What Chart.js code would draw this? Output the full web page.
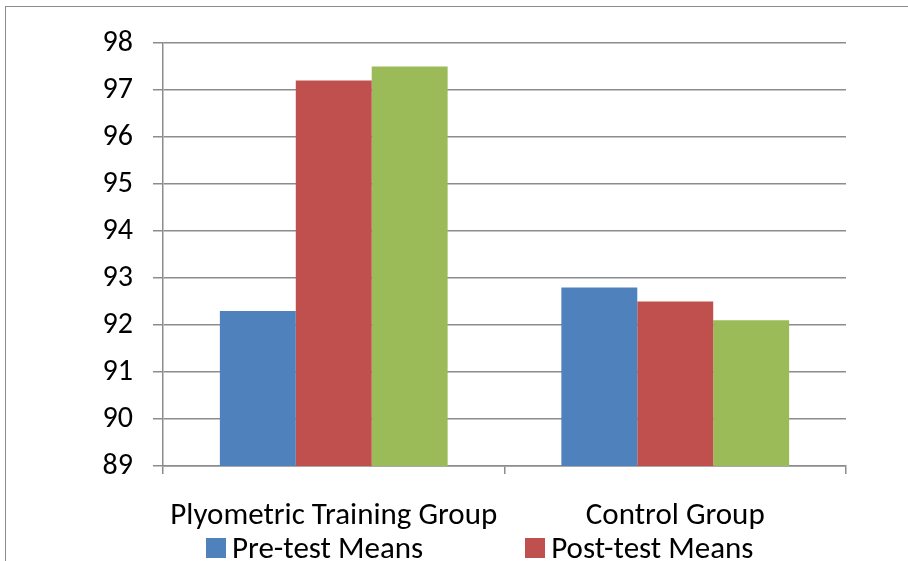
<!DOCTYPE html>
<html>
<head>
<meta charset="utf-8">
<script src="https://cdn.jsdelivr.net/npm/chart.js@4.4.1/dist/chart.umd.min.js"></script>
<style>
  html, body { margin: 0; padding: 0; overflow: hidden; background: #fff; }
  #frame { position: absolute; left: 5px; top: 6px; width: 1200px; height: 1200px; border-left: 1px solid #8c8c8c; border-top: 1px solid #8c8c8c; }
  #wrap { position: absolute; left: 0; top: 0; width: 908px; height: 561px; }
  #legend { position: absolute; left: 206px; top: 532px; width: 620px; display: flex; flex-wrap: wrap; column-gap: 102px;
            font-family: Carlito, Calibri, Lato, sans-serif; font-size: 31px; color: #000; line-height: 31px; }
  #legend .item { display: flex; align-items: center; white-space: nowrap; margin-bottom: 20px; }
  #legend .box { width: 20px; height: 20px; margin-right: 6px; }
</style>
</head>
<body>
<div id="frame"></div>
<div id="wrap"><canvas id="chart"></canvas></div>
<div id="legend"></div>
<script>
const categories = ["Plyometric Training Group", "Control Group"];
const seriesNames = ["Pre-test Means", "Post-test Means", "Retention Test Means"];
const preTest = [92.3, 92.8];
const postTest = [97.2, 92.5];
const retention = [97.5, 92.1];
const seriesColors = ["#4F81BD", "#C0504D", "#9BBB59"];
const yMin = 89;
const yMax = 98;

const fontFamily = "Carlito, Calibri, Lato, sans-serif";
const gridColor = "#8c8c8c";

const values = [preTest, postTest, retention];
const datasets = values.map((data, i) => ({
  label: seriesNames[i],
  data: data,
  backgroundColor: seriesColors[i],
  borderWidth: 0,
  categoryPercentage: 0.667,
  barPercentage: 1.0
}));

const ctx = document.getElementById("chart").getContext("2d");
const chart = new Chart(ctx, {
  type: "bar",
  data: { labels: categories, datasets: datasets },
  options: {
    responsive: true,
    maintainAspectRatio: false,
    animation: false,
    layout: { padding: { top: 43, right: 62, bottom: 0, left: 0 } },
    plugins: {
      legend: { display: false },
      tooltip: { enabled: false }
    },
    scales: {
      x: {
        grid: { drawOnChartArea: false, drawTicks: true, tickLength: 8, color: gridColor, lineWidth: 1.5, offset: true },
        border: { color: gridColor, width: 1.5 },
        ticks: { color: "#000", font: { family: fontFamily, size: 31 }, padding: 24, maxRotation: 0, autoSkip: false },
        afterFit: scale => { scale.height = 95; }
      },
      y: {
        min: yMin,
        max: yMax,
        grid: { color: gridColor, lineWidth: 1.5, tickLength: 10 },
        border: { color: gridColor, width: 1.5 },
        ticks: { stepSize: 1, color: "#000", font: { family: fontFamily, size: 30 }, padding: 20 },
        afterFit: scale => { scale.width = 163; }
      }
    }
  }
});

// html legend, wraps like the original so the third entry falls below the visible area
const legendEl = document.getElementById("legend");
chart.data.datasets.forEach(ds => {
  const item = document.createElement("div");
  item.className = "item";
  item.innerHTML = `<span class="box" style="background:${ds.backgroundColor}"></span><span>${ds.label}</span>`;
  legendEl.appendChild(item);
});
</script>
</body>
</html>
